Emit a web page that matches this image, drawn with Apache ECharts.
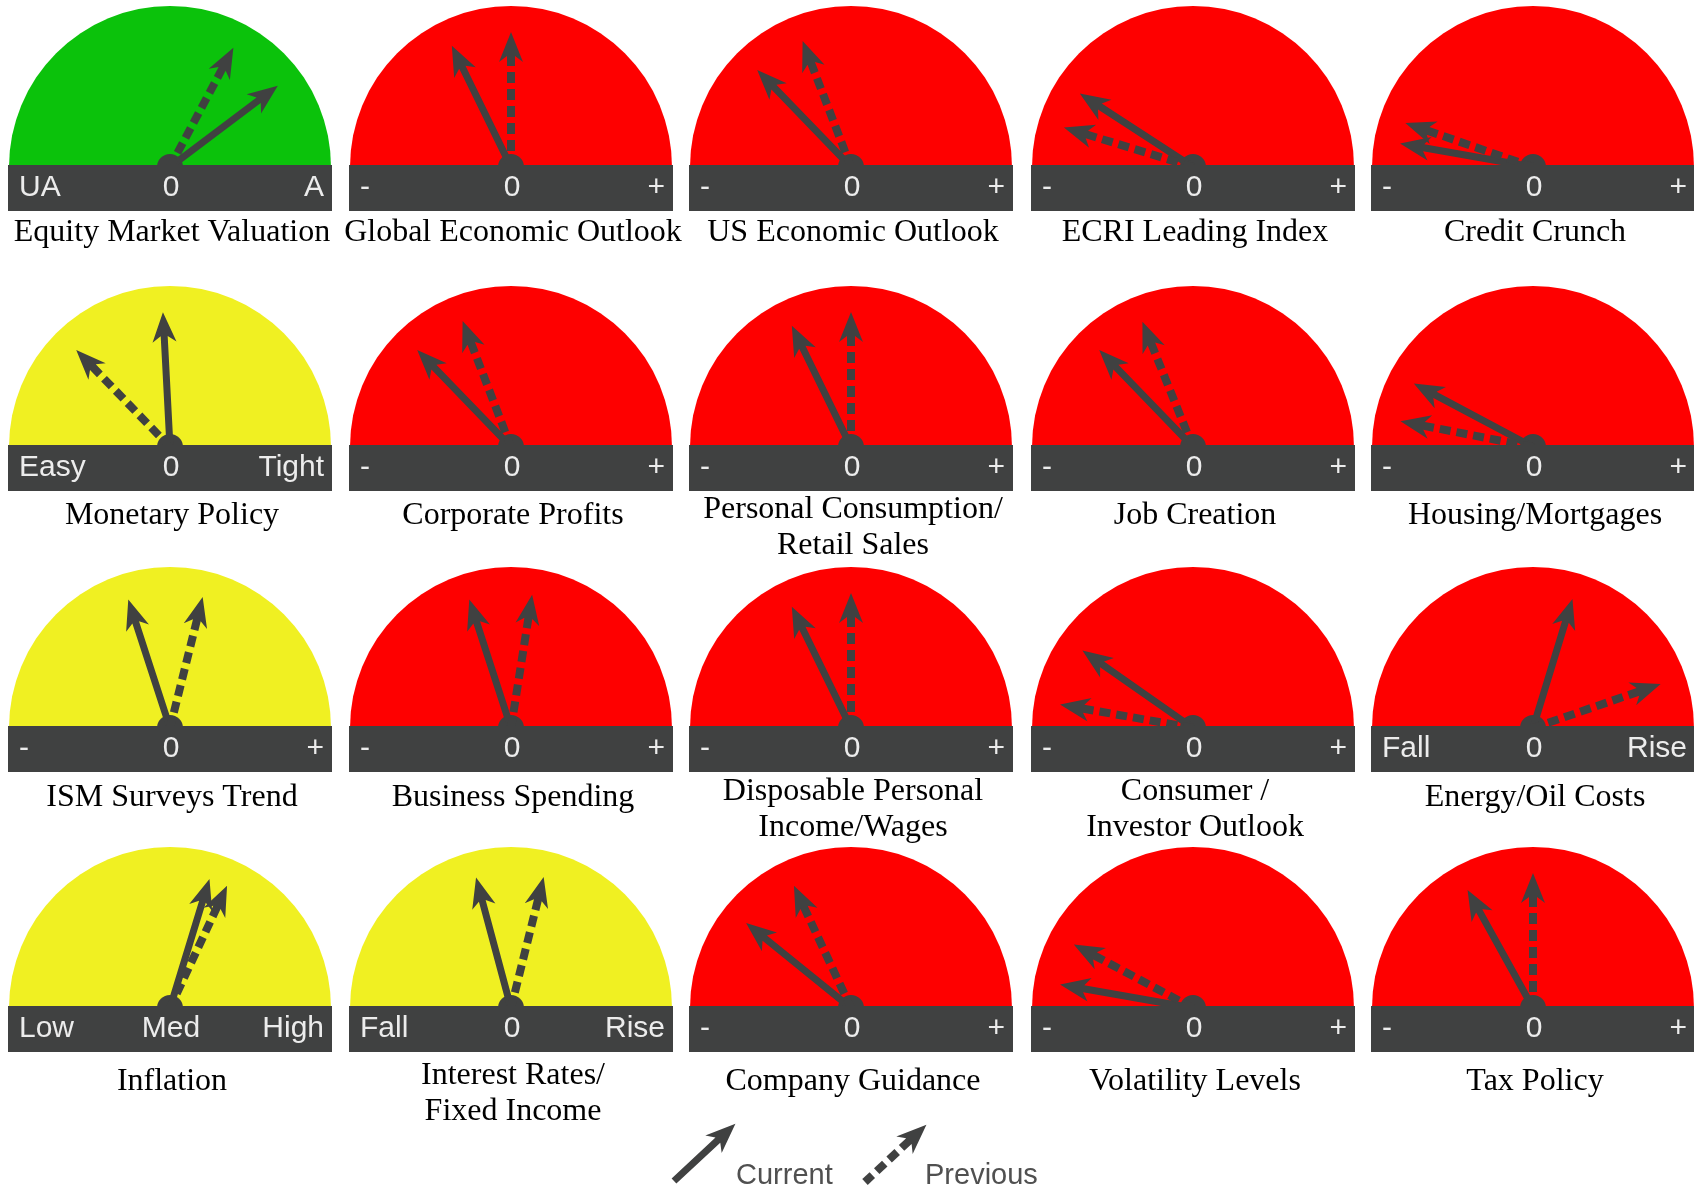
<!DOCTYPE html>
<html><head><meta charset="utf-8">
<script src="https://cdn.jsdelivr.net/npm/echarts@6/dist/echarts.min.js"></script>
<style>html,body{margin:0;padding:0;background:#fff}#c{width:1694px;height:1189px}</style>
</head><body><div id="c"></div>
<script>
// ---- data ----
const titles = [
  'Equity Market Valuation', 'Global Economic Outlook', 'US Economic Outlook', 'ECRI Leading Index', 'Credit Crunch',
  'Monetary Policy', 'Corporate Profits', 'Personal Consumption/\nRetail Sales', 'Job Creation', 'Housing/Mortgages',
  'ISM Surveys Trend', 'Business Spending', 'Disposable Personal\nIncome/Wages', 'Consumer /\nInvestor Outlook', 'Energy/Oil Costs',
  'Inflation', 'Interest Rates/\nFixed Income', 'Company Guidance', 'Volatility Levels', 'Tax Policy'
];
// needle position, -90 (far left) .. 0 (middle) .. 90 (far right)
const currentValues  = [53, -26, -44, -57, -80,  -3, -44, -26, -44, -62, -18, -18, -26, -55, 17, 17, -15, -51, -80, -29];
const previousValues = [28,   0, -21, -73, -71, -44, -21,   0, -22, -79,  14,   9,   0, -80, 71, 25,  14, -25, -62,   0];
const zoneColors = ['green','red','red','red','red','yellow','red','red','red','red','yellow','red','red','red','red','yellow','yellow','red','red','red'];
const leftLabels  = ['UA','-','-','-','-','Easy','-','-','-','-','-','-','-','-','Fall','Low','Fall','-','-','-'];
const midLabels   = ['0','0','0','0','0','0','0','0','0','0','0','0','0','0','0','Med','0','0','0','0'];
const rightLabels = ['A','+','+','+','+','Tight','+','+','+','+','+','+','+','+','Rise','High','Rise','+','+','+'];
const legendNames = ['Current', 'Previous'];

// ---- style / layout ----
const COLORS = {green: '#0bc20b', red: '#fe0000', yellow: '#f0f022'};
const DARK = '#404141';
const colX = [170, 511, 851, 1193, 1533];
const rowY = [167, 447, 728, 1008];
const titleOffsetRow = [66, 69, 70, 74];
const R = 161, PLEN = 135, PW = 24;

// arrow pieces in a 24-wide box, tip at y=0, base at y=L
function arrowPieces(L, dashed) {
  if (!dashed) {
    return [[[12,0],[24,30],[15.5,24],[15.5,L],[8.5,L],[8.5,24],[0,30]]];
  }
  const pieces = [[[12,0],[24,30],[16,24],[16,34],[8,34],[8,24],[0,30]]];
  let y = 40;
  while (y < L) {
    const e = Math.min(y + 11, L);
    pieces.push([[8,y],[16,y],[16,e],[8,e]]);
    y += 17;
  }
  return pieces;
}
function arrowPath(L, dashed) {
  return arrowPieces(L, dashed).map(pc =>
    pc.map((p, k) => (k ? 'L' : 'M') + p[0] + ' ' + p[1]).join(' ') + ' Z').join(' ');
}

const series = [], graphics = [];
titles.forEach((t, i) => {
  const row = Math.floor(i / 5);
  const cx = colX[i % 5], cy = rowY[row];
  const twoLine = t.indexOf('\n') >= 0;
  const ty = titleOffsetRow[row] + (twoLine ? 12 : 0);
  const base = {
    type: 'gauge', center: [cx, cy], radius: R, startAngle: 180, endAngle: 0,
    min: -90, max: 90, splitNumber: 2,
    progress: {show: false},
    splitLine: {show: false}, axisTick: {show: false}, axisLabel: {show: false},
    detail: {show: false}
  };
  series.push(Object.assign({}, base, {
    name: legendNames[0],
    axisLine: {show: true, roundCap: false, lineStyle: {width: R, color: [[1, COLORS[zoneColors[i]]]]}},
    pointer: {show: true, icon: 'path://' + arrowPath(PLEN, false), length: PLEN, width: PW, keepAspect: false,
              itemStyle: {color: DARK}},
    anchor: {show: true, showAbove: false, size: 26, icon: 'circle', itemStyle: {color: DARK}},
    title: {show: true, offsetCenter: [2, ty], fontFamily: 'Liberation Serif', fontSize: 32,
            lineHeight: 36, color: '#000'},
    itemStyle: {color: DARK},
    data: [{value: currentValues[i], name: t}]
  }));
  series.push(Object.assign({}, base, {
    name: legendNames[1],
    axisLine: {show: false},
    pointer: {show: true, icon: 'path://' + arrowPath(PLEN, true), length: PLEN, width: PW, keepAspect: false,
              itemStyle: {color: DARK}},
    anchor: {show: false},
    title: {show: false},
    itemStyle: {color: DARK},
    data: [{value: previousValues[i], name: t}]
  }));
  graphics.push({type: 'rect', z: 10, shape: {x: cx - 162, y: cy - 2, width: 324, height: 46}, style: {fill: DARK}});
  const lblFont = '30px "Liberation Sans", Arial, sans-serif';
  graphics.push({type: 'text', z: 11, x: cx - 151, y: cy + 21,
    style: {text: leftLabels[i], font: lblFont, fill: '#ececec', align: 'left', verticalAlign: 'middle'}});
  graphics.push({type: 'text', z: 11, x: cx + 1, y: cy + 21,
    style: {text: midLabels[i], font: lblFont, fill: '#ececec', align: 'center', verticalAlign: 'middle'}});
  graphics.push({type: 'text', z: 11, x: cx + 154, y: cy + 21,
    style: {text: rightLabels[i], font: lblFont, fill: '#ececec', align: 'right', verticalAlign: 'middle'}});
});

// legend
const legItems = [
  {name: legendNames[0], dashed: false, ax: 674, ay: 1181, tx: 736},
  {name: legendNames[1], dashed: true, ax: 865, ay: 1182, tx: 925}
];
const LL = 84;
legItems.forEach(it => {
  graphics.push({type: 'group', x: it.ax, y: it.ay, rotation: -47 * Math.PI / 180,
    children: arrowPieces(LL, it.dashed).map(pc => ({
      type: 'polygon', z: 11,
      shape: {points: pc.map(p => [p[0] - 12, p[1] - LL])},
      style: {fill: DARK}
    }))});
  graphics.push({type: 'text', z: 11, x: it.tx, y: 1176,
    style: {text: it.name, font: '29px "Liberation Sans", Arial, sans-serif', fill: '#505050',
            align: 'left', verticalAlign: 'middle'}});
});

const chart = echarts.init(document.getElementById('c'), null, {renderer: 'canvas'});
chart.setOption({animation: false, backgroundColor: '#ffffff', series: series, graphic: {elements: graphics}});
</script></body></html>
